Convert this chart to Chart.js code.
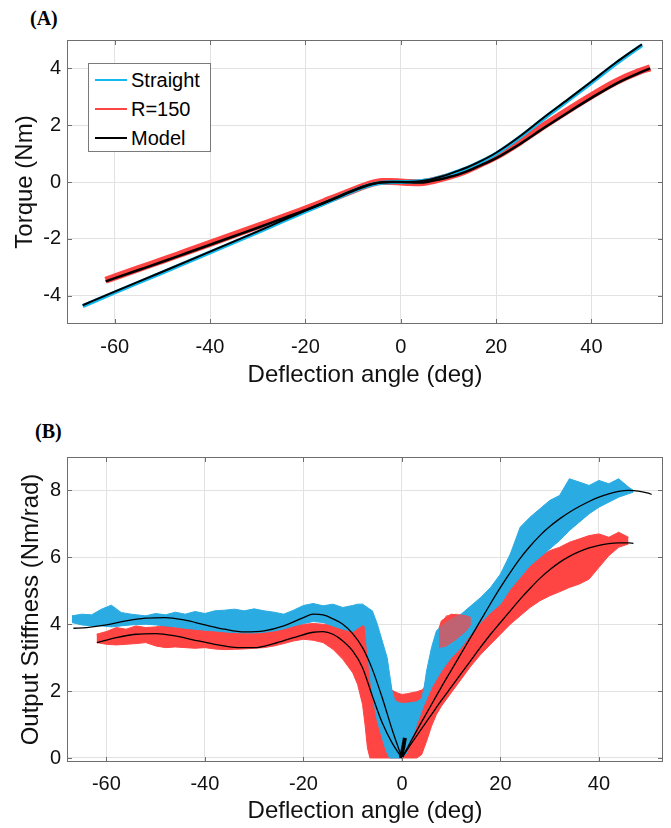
<!DOCTYPE html>
<html lang="en">
<head>
  <meta charset="UTF-8">
  <title>Torque and Output Stiffness vs Deflection</title>
  <script src="https://cdn.jsdelivr.net/npm/chart.js"></script>
  <style>
    body { margin: 0; background: #fff; width: 671px; height: 828px; position: relative; overflow: hidden;
           font-family: 'Liberation Sans', Arial, sans-serif; }
    canvas { position: absolute; left: 0; }
    .tag { position: absolute; font-family: 'Liberation Serif', 'Times New Roman', serif; font-weight: bold;
           font-size: 20px; line-height: 20px; }
    .legend { position: absolute; left: 88px; top: 63px; width: 123px; height: 89px; box-sizing: border-box;
              border: 1px solid #7a7a7a; background: #fff; }
    .legend .row { position: absolute; left: 0; height: 24px; line-height: 24px; font-size: 20px; }
    .legend .swatch { position: absolute; left: 6px; top: 11px; width: 32px; height: 2px; }
    .legend .label { position: absolute; left: 42px; top: 0; white-space: nowrap; }
  </style>
</head>
<body>
  <div class="tag" style="left:30px; top:8px">(A)</div>
  <canvas id="torqueChart" width="671" height="400" style="top:0; width:671px; height:400px"></canvas>
  <!-- MATLAB style legend inside panel A -->
  <div class="legend">
    <div class="row" style="top:4px"><span class="swatch" style="background:#13B8EE"></span><span class="label">Straight</span></div>
    <div class="row" style="top:33px"><span class="swatch" style="background:#FF4444"></span><span class="label">R=150</span></div>
    <div class="row" style="top:62px"><span class="swatch" style="background:#000"></span><span class="label">Model</span></div>
  </div>

  <div class="tag" style="left:35px; top:421px">(B)</div>
  <canvas id="stiffnessChart" width="671" height="428" style="top:400px; width:671px; height:428px"></canvas>

  <script>
    // ---------- Panel A: torque vs deflection ----------
    const xTicksA = [-60, -40, -20, 0, 20, 40];
    const yTicksA = [-4, -2, 0, 2, 4];

    const straightDeflection = [-66.7, -60, -50, -40, -30, -25, -20, -15, -12, -10, -8, -6, -4, -2, 0, 2, 4, 6, 8, 10, 12, 14, 16, 20, 25, 30, 35, 40, 45, 50.6];
    const straightTorque     = [-4.37, -3.89, -3.19, -2.48, -1.77, -1.40, -1.04, -0.68, -0.46, -0.32, -0.19, -0.09, -0.03, -0.01, 0, 0.01, 0.03, 0.07, 0.15, 0.25, 0.37, 0.5, 0.65, 1.0, 1.58, 2.23, 2.86, 3.5, 4.15, 4.82];
    const straightModel      = [-4.34, -3.86, -3.16, -2.45, -1.74, -1.37, -1.01, -0.65, -0.43, -0.29, -0.16, -0.07, -0.02, 0, 0, 0.01, 0.03, 0.08, 0.17, 0.27, 0.39, 0.52, 0.67, 1.03, 1.61, 2.27, 2.9, 3.54, 4.19, 4.85];

    const r150Deflection = [-61.9, -55, -50, -45, -40, -35, -30, -25, -20, -15, -12, -10, -8, -6, -4, -2, 0, 2, 4, 6, 8, 10, 12, 14, 16, 20, 25, 30, 35, 40, 45, 50, 52.3];
    const r150Torque     = [-3.46, -3.05, -2.76, -2.46, -2.16, -1.86, -1.56, -1.26, -0.95, -0.62, -0.42, -0.29, -0.16, -0.05, 0.02, 0.02, 0, -0.02, -0.03, 0.02, 0.1, 0.19, 0.29, 0.42, 0.58, 0.9, 1.41, 1.98, 2.52, 3.04, 3.52, 3.89, 4.02];
    const r150Model      = [-3.5, -3.1, -2.81, -2.51, -2.21, -1.91, -1.61, -1.3, -0.99, -0.66, -0.45, -0.31, -0.18, -0.07, -0.01, 0, 0, -0.01, -0.02, 0.02, 0.09, 0.17, 0.26, 0.38, 0.53, 0.84, 1.34, 1.9, 2.44, 2.96, 3.45, 3.84, 4.0];

    // ---------- Panel B: output stiffness vs deflection ----------
    const xTicksB = [-60, -40, -20, 0, 20, 40];
    const yTicksB = [0, 2, 4, 6, 8];

    // measured spread of the cycles: [deflection, lowest, highest]
    const straightSpread = [
      [-67, 4.05, 4.25], [-65, 3.98, 4.3], [-63, 3.95, 4.28], [-61, 3.95, 4.45], [-59, 3.92, 4.57], [-57, 3.95, 4.35],
      [-55, 3.98, 4.3], [-52, 4.0, 4.25], [-50, 3.98, 4.32], [-48, 3.95, 4.28], [-46, 3.92, 4.36], [-44, 3.88, 4.3],
      [-42, 3.85, 4.38], [-40, 3.82, 4.32], [-38, 3.8, 4.4], [-36, 3.77, 4.42], [-34, 3.75, 4.45], [-32, 3.74, 4.4],
      [-30, 3.74, 4.46], [-28, 3.76, 4.4], [-26, 3.8, 4.36], [-24, 3.86, 4.3], [-22, 3.95, 4.42], [-20, 4.02, 4.56],
      [-18, 4.08, 4.62], [-16, 4.05, 4.55], [-14, 3.95, 4.6], [-12, 3.85, 4.5], [-10, 3.78, 4.56], [-9, 3.88, 4.6],
      [-8, 3.98, 4.6], [-7.5, 3.95, 4.55], [-7, 3.2, 4.5], [-6.5, 2.5, 4.45], [-6, 1.9, 4.4], [-5.5, 1.5, 4.2],
      [-5, 1.1, 4.0], [-4.5, 0.85, 3.75], [-4, 0.6, 3.5], [-3.5, 0.35, 3.25], [-3, 0.15, 3.0], [-2.5, 0, 2.5],
      [-2, 0, 2.0], [-1.5, 0, 1.75], [-1, 0, 1.68], [0, 0, 1.63], [1, 0.15, 1.64], [2, 0.55, 1.66], [3, 1.0, 1.68],
      [4, 1.4, 1.78], [4.5, 1.6, 2.1], [5, 1.75, 2.6], [6, 2.1, 3.3], [7, 2.35, 3.8], [8, 2.6, 3.95], [10, 3.0, 4.15],
      [12, 3.3, 4.3], [14, 3.7, 4.55], [16, 4.05, 4.8], [18, 4.35, 5.1], [20, 4.6, 5.5], [22, 5.05, 6.1], [24, 5.4, 6.9],
      [26, 5.75, 7.2], [28, 6.0, 7.45], [30, 6.25, 7.7], [32, 6.5, 7.85], [34, 6.8, 8.35], [36, 7.05, 8.25],
      [38, 7.3, 8.15], [40, 7.5, 8.3], [42, 7.65, 8.2], [44, 7.8, 8.35], [46, 7.9, 8.1], [47, 7.95, 8.0]
    ];
    const r150Spread = [
      [-62, 3.45, 3.7], [-60, 3.4, 3.78], [-58, 3.38, 3.9], [-56, 3.4, 3.85], [-54, 3.42, 3.95], [-52, 3.45, 3.9],
      [-50, 3.35, 3.92], [-48, 3.3, 3.98], [-46, 3.32, 3.9], [-44, 3.3, 3.88], [-42, 3.28, 3.85], [-40, 3.3, 3.82],
      [-38, 3.26, 3.8], [-36, 3.24, 3.78], [-34, 3.25, 3.76], [-32, 3.26, 3.75], [-30, 3.28, 3.78], [-28, 3.3, 3.82],
      [-26, 3.35, 3.88], [-24, 3.42, 3.92], [-22, 3.5, 3.98], [-20, 3.55, 4.0], [-18, 3.52, 4.02], [-16, 3.45, 4.0],
      [-14, 3.25, 3.98], [-12, 2.95, 3.92], [-10, 2.55, 3.85], [-9, 2.2, 3.95], [-8, 1.6, 4.0], [-7.5, 1.0, 4.0],
      [-7, 0.3, 3.9], [-6.5, 0, 3.3], [-6, 0, 2.75], [-5.5, 0, 2.4], [-4.5, 0, 2.2], [-3, 0, 2.1], [-1, 0, 1.95],
      [0, 0, 1.9], [1, 0, 1.92], [3, 0, 1.98], [4, 0.1, 2.03], [4.5, 0.3, 2.1], [5, 0.5, 2.4], [6, 0.95, 3.0],
      [7, 1.3, 3.6], [8, 1.55, 4.1], [10, 1.95, 4.3], [12, 2.35, 4.25], [14, 2.75, 4.3], [16, 3.1, 4.45],
      [18, 3.4, 4.7], [20, 3.7, 5.0], [22, 4.0, 5.4], [24, 4.25, 5.8], [26, 4.5, 5.95], [28, 4.7, 6.05],
      [30, 4.85, 6.2], [32, 4.97, 6.3], [34, 5.1, 6.45], [36, 5.2, 6.55], [38, 5.35, 6.65], [40, 5.7, 6.7],
      [42, 6.05, 6.6], [44, 6.3, 6.75], [46, 6.4, 6.6]
    ];
    // stray R=150 cycles lying over the straight band
    const r150Stray = [[7.5, 3.3, 3.9], [9, 3.35, 4.25], [11, 3.55, 4.3], [13, 3.8, 4.25], [14, 4.0, 4.2]];

    const straightFitLeft  = [[-66.7, 3.88], [-64, 3.9], [-60, 3.98], [-56, 4.1], [-52, 4.18], [-48, 4.2], [-44, 4.12], [-40, 3.98], [-36, 3.85], [-32, 3.77], [-28, 3.8], [-24, 3.95], [-20, 4.2], [-18, 4.3], [-16, 4.28], [-14, 4.16], [-12, 4.0], [-10, 3.72], [-8, 3.3], [-6, 2.65], [-4, 1.8], [-2, 0.85], [0, 0]];
    const straightFitRight = [[0, 0], [2, 0.55], [4, 1.08], [6, 1.6], [8, 2.12], [10, 2.62], [12, 3.12], [14, 3.62], [16, 4.12], [18, 4.62], [20, 5.1], [22, 5.55], [24, 5.97], [26, 6.33], [28, 6.65], [30, 6.92], [32, 7.15], [34, 7.35], [36, 7.52], [38, 7.67], [40, 7.8], [42, 7.9], [44, 7.97], [46, 8.0], [48, 7.98], [50, 7.92], [50.7, 7.88]];
    const r150FitLeft  = [[-61.9, 3.45], [-58, 3.6], [-54, 3.7], [-50, 3.72], [-46, 3.65], [-42, 3.52], [-38, 3.4], [-34, 3.31], [-30, 3.3], [-26, 3.42], [-22, 3.6], [-18, 3.76], [-16, 3.78], [-14, 3.7], [-12, 3.5], [-10, 3.2], [-8, 2.7], [-6, 1.85], [-4, 1.05], [-2, 0.45], [0, 0]];
    const r150FitRight = [[0, 0], [2, 0.45], [4, 0.88], [6, 1.3], [8, 1.72], [10, 2.12], [12, 2.52], [14, 2.92], [16, 3.32], [18, 3.7], [20, 4.05], [22, 4.4], [24, 4.75], [26, 5.07], [28, 5.37], [30, 5.63], [32, 5.85], [34, 6.03], [36, 6.17], [38, 6.28], [40, 6.36], [42, 6.41], [44, 6.43], [46, 6.43], [47, 6.42]];
    // the fitted curves crowd together just right of zero
    const fitHub = [[-0.2, 0], [0.3, 0.35], [0.6, 0.6]];

    const CYAN_A = '#13B8EE';
    const BLUE_B = '#2AABE2';
    const RED = '#FF4444';
    const FONT = "'Liberation Sans', Arial, sans-serif";

    const toPoints = (xs, ys) => xs.map((x, i) => ({ x: x, y: ys[i] }));
    const fromPairs = arr => arr.map(p => ({ x: p[0], y: p[1] }));

    // upper edge filled down to the lower edge (next dataset)
    function spreadDatasets(spread, color) {
      return [
        { data: spread.map(s => ({ x: s[0], y: s[2] })), borderColor: color, backgroundColor: color, borderWidth: 1, fill: '+1' },
        { data: spread.map(s => ({ x: s[0], y: s[1] })), borderColor: color, borderWidth: 1, fill: false }
      ];
    }

    function fitLine(points, width) {
      return { data: fromPairs(points), borderColor: '#000', borderWidth: width || 1.3, cubicInterpolationMode: 'monotone' };
    }

    function curve(label, points, color, width) {
      return { label: label, data: points, borderColor: color, borderWidth: width, cubicInterpolationMode: 'monotone' };
    }

    // box around the plot area with inward tick marks on all four sides
    const matlabBox = {
      id: 'matlabBox',
      afterDraw(chart) {
        const { ctx, chartArea: a, scales: { x, y } } = chart;
        const len = 5;
        ctx.save();
        ctx.strokeStyle = '#6e6e6e';
        ctx.lineWidth = 1;
        ctx.strokeRect(a.left + 0.5, a.top + 0.5, a.right - a.left - 1, a.bottom - a.top - 1);
        ctx.beginPath();
        x.ticks.forEach(t => {
          const px = Math.round(x.getPixelForValue(t.value)) + 0.5;
          ctx.moveTo(px, a.bottom); ctx.lineTo(px, a.bottom - len);
          ctx.moveTo(px, a.top); ctx.lineTo(px, a.top + len);
        });
        y.ticks.forEach(t => {
          const py = Math.round(y.getPixelForValue(t.value)) + 0.5;
          ctx.moveTo(a.left, py); ctx.lineTo(a.left + len, py);
          ctx.moveTo(a.right, py); ctx.lineTo(a.right - len, py);
        });
        ctx.stroke();
        ctx.restore();
      }
    };

    function makeOptions(cfg) {
      return {
        responsive: false,
        animation: false,
        layout: { padding: { top: cfg.top, right: 8, bottom: 0, left: 0 } },
        elements: { point: { radius: 0 }, line: { tension: 0 } },
        plugins: { legend: { display: false }, tooltip: { enabled: false } },
        scales: {
          x: {
            type: 'linear', min: cfg.xMin, max: cfg.xMax,
            afterBuildTicks: s => { s.ticks = cfg.xTicks.map(v => ({ value: v })); },
            afterFit: s => { s.height = cfg.xAxisHeight; },
            grid: { color: '#e2e2e2', drawTicks: false },
            border: { display: false },
            ticks: { color: '#111', font: { family: FONT, size: 20 }, padding: cfg.xTickPad, maxRotation: 0, autoSkip: false },
            title: { display: true, text: 'Deflection angle (deg)', color: '#111', font: { family: FONT, size: 24 }, padding: { top: 0, bottom: cfg.xTitlePad } }
          },
          y: {
            type: 'linear', min: cfg.yMin, max: cfg.yMax,
            afterBuildTicks: s => { s.ticks = cfg.yTicks.map(v => ({ value: v })); },
            afterFit: s => { s.width = 67; },
            grid: { color: '#e2e2e2', drawTicks: false },
            border: { display: false },
            ticks: { color: '#111', font: { family: FONT, size: 20 }, padding: 6 },
            title: { display: true, text: cfg.yTitle, color: '#111', font: { family: FONT, size: 24 }, padding: { top: cfg.yTitlePad, bottom: 0 } }
          }
        }
      };
    }

    // Panel A
    new Chart(document.getElementById('torqueChart').getContext('2d'), {
      type: 'line',
      data: {
        datasets: [
          curve('Model', toPoints(straightDeflection, straightModel), '#000', 2),
          curve('Model', toPoints(r150Deflection, r150Model), '#000', 2.5),
          curve('Straight', toPoints(straightDeflection, straightTorque), CYAN_A, 4),
          curve('R=150', toPoints(r150Deflection, r150Torque), RED, 7)
        ]
      },
      options: makeOptions({
        top: 40, xMin: -70, xMax: 55, yMin: -5, yMax: 5, xTicks: xTicksA, yTicks: yTicksA,
        xAxisHeight: 76, xTickPad: 11, xTitlePad: 10, yTitle: 'Torque (Nm)', yTitlePad: 11
      }),
      plugins: [matlabBox]
    });

    // Panel B
    new Chart(document.getElementById('stiffnessChart').getContext('2d'), {
      type: 'line',
      data: {
        datasets: [
          fitLine(fitHub, 4),
          fitLine(straightFitLeft), fitLine(straightFitRight), fitLine(r150FitLeft), fitLine(r150FitRight),
          ...spreadDatasets(r150Stray, 'rgba(255, 68, 68, 0.7)'),
          ...spreadDatasets(straightSpread, BLUE_B),
          ...spreadDatasets(r150Spread, RED)
        ]
      },
      options: makeOptions({
        top: 57, xMin: -68, xMax: 53, yMin: -0.12, yMax: 9, xTicks: xTicksB, yTicks: yTicksB,
        xAxisHeight: 66, xTickPad: 10, xTitlePad: 2, yTitle: 'Output Stiffness (Nm/rad)', yTitlePad: 17
      }),
      plugins: [matlabBox]
    });
  </script>
</body>
</html>
